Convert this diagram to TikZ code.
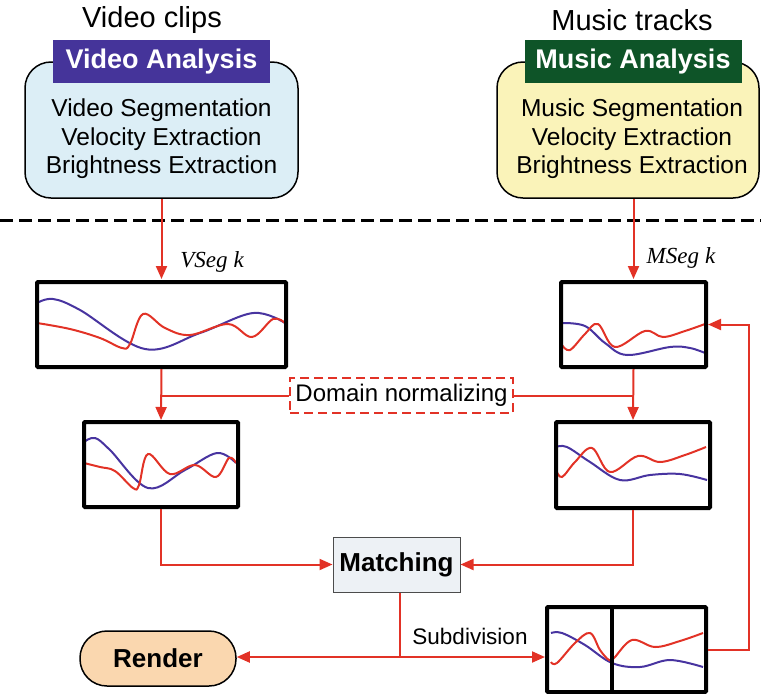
\documentclass[tikz,border=0pt]{standalone}
\usepackage{fontspec}
\setmainfont{Liberation Sans}
\newfontfamily\serifit{Liberation Serif}
\usetikzlibrary{arrows.meta,calc}
\definecolor{vidfill}{RGB}{220,238,246}
\definecolor{vidhead}{RGB}{69,52,154}
\definecolor{musfill}{RGB}{250,243,185}
\definecolor{mushead}{RGB}{14,84,40}
\definecolor{redl}{RGB}{226,50,38}
\definecolor{bluew}{RGB}{72,52,160}
\definecolor{matchfill}{RGB}{237,241,245}
\definecolor{renderfill}{RGB}{250,215,175}
\tikzset{
  anabox/.style={draw=black, line width=1.5pt, rounded corners=26pt, minimum width=273pt, minimum height=136pt},
  headbox/.style={minimum width=217pt, minimum height=43pt, text=white, font=\fontsize{27}{30}\selectfont\bfseries, inner sep=0pt},
  listtext/.style={align=center, font=\fontsize{24.5}{28.5}\selectfont, inner sep=0pt},
  title/.style={font=\fontsize{29}{32}\selectfont, inner sep=0pt},
  wavebox/.style={draw=black, line width=4pt, rounded corners=1pt},
  conn/.style={draw=redl, line width=2pt},
  arr/.style={conn, -{Triangle[length=13pt,width=11pt]}},
  redw/.style={draw=redl, line width=2pt},
  bluew/.style={draw=bluew, line width=2pt},
  seglab/.style={font=\serifit\itshape\fontsize{23}{26}\selectfont, inner sep=0pt},
  smalllab/.style={font=\fontsize{22.5}{26}\selectfont, inner sep=0pt}
}
\begin{document}
\begin{tikzpicture}[x=1pt,y=-1pt]
\useasboundingbox (0,0) rectangle (761,694);
% titles
\node[title] (vclips) at (152,20) {Video clips};
\node[title] (mtracks) at (632,20) {Music tracks};
% analysis boxes
\node[anabox, fill=vidfill] (vbox) at (161.5,130) {};
\node[headbox, fill=vidhead] (vana) at (161.5,61.5) {Video Analysis};
\node[listtext] (vlist) at (161.5,139) {Video Segmentation\\Velocity Extraction\\Brightness Extraction};
\node[anabox, fill=musfill, minimum width=262pt] (mbox) at (628,130) {};
\node[headbox, fill=mushead] (mana) at (633,61.5) {Music Analysis};
\node[listtext] (mlist) at (632,139) {Music Segmentation\\Velocity Extraction\\Brightness Extraction};
% dashed separator
\coordinate (dl) at (0,220);
\coordinate (dr) at (761,220);
\draw[line width=3pt, dash pattern=on 13pt off 6pt] (dl) -- (dr);
% waveforms
\draw[bluew] plot[smooth, tension=0.6] coordinates {(37,303) (53,299) (80,310) (145,349) (200,333) (253,313) (285,323)};
\draw[redw] plot[smooth, tension=0.6] coordinates {(37,323) (70,329) (100,338) (122,348) (130,344) (143,314) (165,328) (190,335) (228,324) (252,337) (273,319) (285,323)};
\draw[bluew] plot[smooth, tension=0.6] coordinates {(84,442) (95,438) (110,450) (148,488) (185,470) (217,453) (236,463)};
\draw[redw] plot[smooth, tension=0.6] coordinates {(84,463) (100,467) (115,471) (133,488) (139,485) (148,454) (170,474) (195,465) (216,477) (229,458) (236,463)};
\draw[bluew] plot[smooth, tension=0.6] coordinates {(562,323) (585,326) (605,343) (627,355) (670,347) (690,348) (705,353)};
\draw[redw] plot[smooth, tension=0.6] coordinates {(562,345) (570,350) (585,334) (598,324) (615,347) (645,331) (663,337) (685,331) (705,324)};
\draw[bluew] plot[smooth, tension=0.6] coordinates {(556,447) (567,447) (590,462) (620,480) (650,475) (680,474) (707,480)};
\draw[redw] plot[smooth, tension=0.6] coordinates {(556,470) (562,477) (575,462) (592,448) (610,472) (638,456) (660,462) (685,455) (706,447)};
\draw[bluew] plot[smooth, tension=0.6] coordinates {(551,633) (562,633) (585,645) (612,663) (640,667) (670,660) (703,667)};
\draw[redw] plot[smooth, tension=0.6] coordinates {(551,662) (557,663) (575,643) (590,633) (600,650) (609,660) (614,658) (632,640) (655,647) (680,641) (703,633)};
% wave boxes
\node[wavebox, minimum width=249pt, minimum height=85pt] (v1) at (161.5,324.5) {};
\node[wavebox, minimum width=154pt, minimum height=85pt] (v2) at (161,464.5) {};
\node[wavebox, minimum width=145pt, minimum height=85pt] (m1) at (633.5,324.5) {};
\node[wavebox, minimum width=154pt, minimum height=86pt] (m2) at (633,465) {};
\node[wavebox, minimum width=159pt, minimum height=85pt] (sub) at (626.5,649.5) {};
\coordinate (dv) at (612,0);
\draw[line width=4pt] (sub.north -| dv) -- (sub.south -| dv);
% labels
\node[seglab] (vlab) at (212,262) {VSeg\hspace{6pt}k};
\node[seglab] (mlab) at (681,258) {MSeg\hspace{6pt}k};
% domain normalizing
\node[draw=redl, line width=2.5pt, dash pattern=on 9pt off 5pt, fill=white, minimum width=223pt, minimum height=35pt, font=\fontsize{24}{26}\selectfont, inner sep=0pt] (dom) at (401.5,395.5) {Domain normalizing};
% matching and render
\node[draw=black!70, line width=1pt, fill=matchfill, minimum width=127pt, minimum height=55pt, font=\fontsize{26}{28}\selectfont\bfseries, inner sep=0pt] (match) at (396.5,564.5) {Matching};
\node[draw=black, line width=1.5pt, fill=renderfill, rounded corners=27pt, minimum width=156pt, minimum height=55pt, font=\fontsize{26}{28}\selectfont\bfseries, inner sep=0pt] (render) at (158,658.5) {Render};
\node[smalllab] (sublab) at (470,636) {Subdivision};
% connectors
\draw[arr, shorten >=1pt] (vbox.south -| v1.north) -- (v1.north);
\draw[arr, shorten >=1pt] (mbox.south -| m1.north) -- (m1.north);
\draw[arr] (v1.south) -- (v2.north);
\draw[arr] (m1.south) -- (m2.north);
\draw[conn] (dom.west) -- (dom.west -| v1.south);
\draw[conn] (dom.east) -- (dom.east -| m1.south);
\draw[arr] (v2.south) |- (match.west);
\draw[arr] (m2.south) |- (match.east);
\coordinate (jn) at (400,657);
\draw[conn] (match.south -| jn) -- (jn);
\draw[arr] (jn) -- (render.east |- jn);
\draw[arr] (jn) -- (sub.west |- jn);
\coordinate (fb) at (749,0);
\draw[arr] (sub.east) -- (sub.east -| fb) |- (m1.east);
\end{tikzpicture}
\end{document}
